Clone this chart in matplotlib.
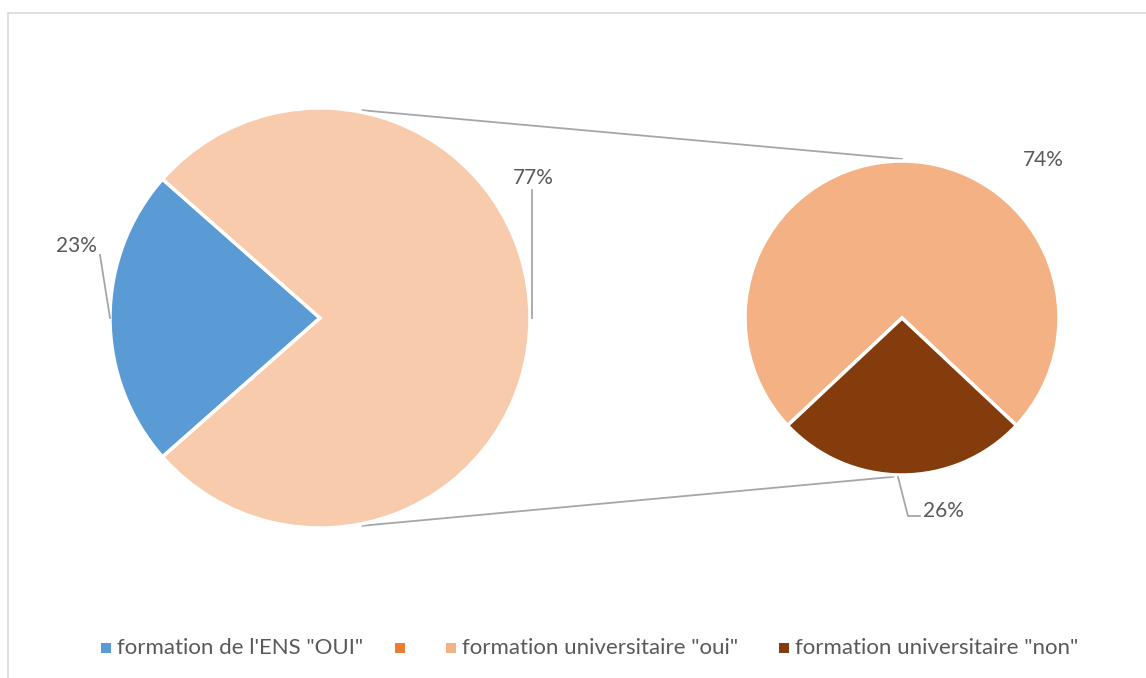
import numpy as np
import matplotlib.pyplot as plt
from matplotlib.patches import Rectangle

# main pie: ENS yes vs. rest
main_labels = ["formation de l'ENS \"OUI\"", ""]
main_values = [23, 77]
main_pct = ["23%", "77%"]

# secondary pie: breakdown of the rest
sub_labels = ["formation universitaire \"oui\"", "formation universitaire \"non\""]
sub_values = [74, 26]
sub_pct = ["74%", "26%"]

legend_labels = ["formation de l'ENS \"OUI\"", "",
                 "formation universitaire \"oui\"", "formation universitaire \"non\""]
legend_colors = ["#5B9BD5", "#ED7D31", "#F4B183", "#843C0C"]

BLUE = "#5B9BD5"
PEACH = "#F8CBAD"
LIGHT = "#F4B183"
BROWN = "#843C0C"
TXT = "#595959"
LINE = "#A6A6A6"

plt.rcParams["font.family"] = ["Lato", "DejaVu Sans"]

W, H = 1146, 678
fig = plt.figure(figsize=(W / 100, H / 100), dpi=100)
ax = fig.add_axes([0, 0, 1, 1])

# chart border (cropped at right and bottom)
ax.add_patch(Rectangle((8, -20), W + 20, H - 13 + 20, fill=False,
                       edgecolor="#D9D9D9", linewidth=1.2, zorder=0))

c1, r1 = (320, 360), 210
c2, r2 = (902, 360), 157

start1 = 180 - main_values[0] / sum(main_values) * 360 / 2
ax.pie(main_values, colors=[BLUE, PEACH], startangle=start1, center=c1,
       radius=r1, wedgeprops=dict(edgecolor="white", linewidth=2.5),
       frame=True)

start2 = 270 + sub_values[1] / sum(sub_values) * 360 / 2
ax.pie(sub_values, colors=[LIGHT, BROWN], startangle=start2, center=c2,
       radius=r2, wedgeprops=dict(edgecolor="white", linewidth=2.5),
       frame=True)
ax.set_xlim(0, W)
ax.set_ylim(0, H)
ax.set_aspect("equal")
ax.axis("off")


def on_circle(c, r, ang):
    a = np.deg2rad(ang)
    return c[0] + r * np.cos(a), c[1] + r * np.sin(a)


# connector lines between the pies
p1 = on_circle(c1, r1 + 2, 78.5)
q1 = on_circle(c2, r2 + 2, 90)
p2 = on_circle(c1, r1 + 2, -78.5)
q2 = on_circle(c2, r2 + 2, -93)
ax.plot([p1[0], q1[0]], [p1[1], q1[1]], color=LINE, lw=1.3, zorder=0)
ax.plot([p2[0], q2[0]], [p2[1], q2[1]], color=LINE, lw=1.3, zorder=0)

fs_lab = 15
# data labels with leader lines
ax.text(76, 432, main_pct[0], fontsize=fs_lab, color=TXT, ha="center", va="center")
ax.plot([100, 110], [423, 360], color=LINE, lw=1.3)
ax.text(533, 500, main_pct[1], fontsize=fs_lab, color=TXT, ha="center", va="center")
ax.plot([532, 532], [488, 360], color=LINE, lw=1.3)
ax.text(1043, 518, sub_pct[0], fontsize=fs_lab, color=TXT, ha="center", va="center")
ax.text(943, 167, sub_pct[1], fontsize=fs_lab, color=TXT, ha="center", va="center")
ax.plot([898, 908, 920], [201, 162, 162], color=LINE, lw=1.3)

# legend
fs_leg = 16
leg_x = [106, 400, 451, 784]
leg_y = 30
for x, col, lab in zip(leg_x, legend_colors, legend_labels):
    ax.add_patch(Rectangle((x - 5, leg_y - 5), 10, 10, color=col, lw=0))
    ax.text(x + 11, leg_y, lab, fontsize=fs_leg, color=TXT, ha="left", va="center")

fig.savefig("out.png", dpi=100)
